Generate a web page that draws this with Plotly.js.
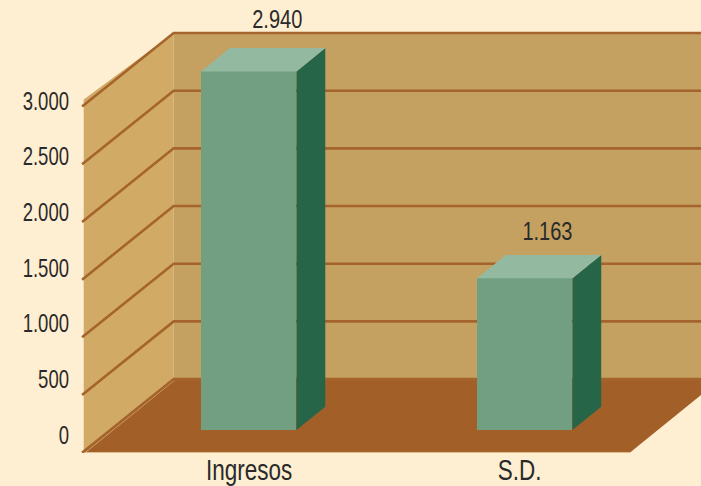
<!DOCTYPE html>
<html>
<head>
<meta charset="utf-8">
<script src="https://cdn.plot.ly/plotly-3.0.1.min.js"></script>
<style>html,body{margin:0;padding:0;background:#FFEFD2;overflow:hidden}</style>
</head>
<body>
<div id="chart" style="width:701px;height:486px"></div>
<script>
// Data
const categories = ["Ingresos", "S.D."];
const printedValues = [2940, 1163];          // numbers printed over the bars
const printedLabels = ["2.940", "1.163"];
const drawnHeights = [3109, 1315];           // bar heights as drawn on the axis scale
const tickValues = [0, 500, 1000, 1500, 2000, 2500, 3000];
const tickLabels = ["0", "500", "1.000", "1.500", "2.000", "2.500", "3.000"];

// Oblique-projection settings
const DX = 0.329, DY = 632;                  // screen shift of full depth (slots, value units)
const barSlots = [0.5044, 1.5134];
const labelSlots = [0.605, 1.594];
const barWidth = 0.349, barStart = 0.301, barThick = 0.32;
const wallRight = 2.3, floorRight = 2;
const FONT = '"Liberation Sans",sans-serif';
const C = {bg:'#FFEFD2', back:'#C4A160', left:'#D1AA66', floor:'#A26028', grid:'#A5642B',
           front:'#729F82', top:'#93BAA0', side:'#266547', text:'#2A2A2A', edge:'#DDB888'};

const proj = (x, y, d) => [x + d * DX, y + d * DY];
const path = (pts, close) => 'M' + pts.map(p => p.join(',')).join('L') + (close ? 'Z' : '');
const poly = (pts, color) => ({type:'path', layer:'below', xref:'x', yref:'y', path:path(pts, true),
  fillcolor:color, line:{width:0}});
const stroke = (pts, color, w) => ({type:'path', layer:'below', xref:'x', yref:'y', path:path(pts, false),
  line:{color:color, width:w}});

const topTick = tickValues[tickValues.length - 1];
const shapes = [
  poly([proj(0,0,1), proj(wallRight,0,1), proj(wallRight,topTick,1), proj(0,topTick,1)], C.back),
  poly([proj(0,0,0), proj(0,0,1), proj(0,topTick,1), proj(0,topTick + 55,0)], C.left),
  poly([proj(0,0,0), proj(floorRight,0,0), proj(floorRight,0,1), proj(0,0,1)], C.floor),
  stroke([proj(0,-4,0), proj(floorRight,-4,0)], C.edge, 1),
  stroke([proj(0.006,-4,0), proj(0.006,-4,1)], C.edge, 0.8)
];
tickValues.forEach(v => {
  shapes.push(stroke([proj(-0.006,v - 6,0), proj(0,v,1), proj(wallRight,v,1)], C.grid, 2.6));
});

const traces = [];
// front faces
traces.push({type:'bar', x:barSlots.map(s => s + barStart * DX), y:drawnHeights,
  base:drawnHeights.map(() => barStart * DY), width:barWidth,
  marker:{color:C.front, line:{width:0}}, hoverinfo:'skip', showlegend:false});
// top and side faces
drawnHeights.forEach((h, i) => {
  const l = barSlots[i] - barWidth / 2, r = barSlots[i] + barWidth / 2;
  const d0 = barStart, d1 = barStart + barThick;
  const side = [proj(r,0,d0), proj(r,0,d1), proj(r,h,d1), proj(r,h,d0), proj(r,0,d0)];
  const top = [proj(l,h,d0), proj(r,h,d0), proj(r,h,d1), proj(l,h,d1), proj(l,h,d0)];
  [[side, C.side], [top, C.top]].forEach(([pts, col]) => traces.push({type:'scatter', mode:'lines',
    x:pts.map(p => p[0]), y:pts.map(p => p[1]), fill:'toself', fillcolor:col, line:{width:0},
    hoverinfo:'skip', showlegend:false}));
});
// value labels
traces.push({type:'scatter', mode:'text',
  x:barSlots.map((s, i) => s + (barStart + barThick * 0.9) * DX + [0.0096, -0.0115][i]),
  y:drawnHeights.map((h, i) => h + (barStart + barThick) * DY + [228, 188][i]),
  text:printedLabels, textposition:'middle center',
  textfont:{family:FONT, size:25, color:C.text}, hoverinfo:'skip', showlegend:false});
// carrier for the value axis, which sits on its own scale
traces.push({type:'scatter', mode:'markers', x:tickValues.map(() => 0), y:tickValues, yaxis:'y2',
  marker:{size:1, opacity:0}, hoverinfo:'skip', showlegend:false});

const layout = {
  width:701, height:486,
  margin:{l:72, r:0, t:0, b:33, pad:0},
  paper_bgcolor:C.bg, plot_bgcolor:'rgba(0,0,0,0)',
  showlegend:false, bargap:0,
  xaxis:{range:[-11.7/273.5, 617.3/273.5], tickmode:'array', tickvals:labelSlots, ticktext:categories,
    showgrid:false, zeroline:false, showline:false, ticks:'', fixedrange:true, ticklabelstandoff:-3,
    tickfont:{family:FONT, size:29, color:C.text}},
  yaxis:{range:[-8.7, 3918], showgrid:false, zeroline:false, showline:false, ticks:'',
    showticklabels:false, fixedrange:true},
  yaxis2:{overlaying:'y', side:'left', anchor:'x', range:[-161.7, 3907], tickmode:'array',
    tickvals:tickValues, ticktext:tickLabels, showgrid:false, zeroline:false, showline:false, ticks:'',
    fixedrange:true, ticklabelstandoff:2, tickfont:{family:FONT, size:25, color:C.text}},
  shapes:shapes
};
Plotly.newPlot('chart', traces, layout, {displayModeBar:false, staticPlot:true}).then(gd => {
  // The reference face is condensed: squeeze the real text glyphs horizontally
  const squeeze = (selector, factor) => gd.querySelectorAll(selector).forEach(t => {
    t.setAttribute('lengthAdjust', 'spacingAndGlyphs');
    t.setAttribute('textLength', (t.getComputedTextLength() * factor).toFixed(1));
  });
  squeeze('.xtick text', 0.775);
  squeeze('.ytick text, .y2tick text', 0.74);
  squeeze('.textpoint text', 0.8);
});
</script>
</body>
</html>
